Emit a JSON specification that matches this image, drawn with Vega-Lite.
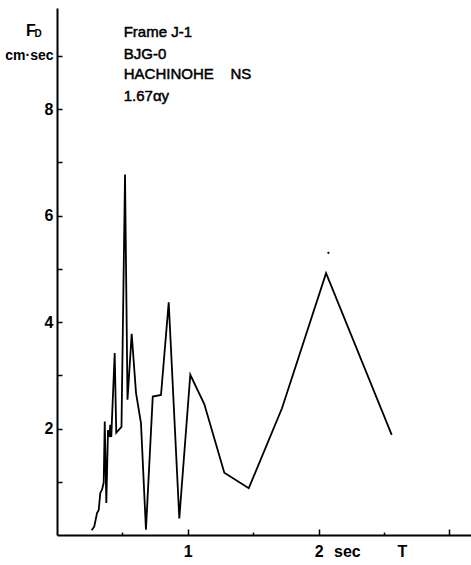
{
  "$schema": "https://vega.github.io/schema/vega-lite/v6.json",
  "autosize": "none",
  "width": 414,
  "height": 527,
  "padding": {"left": 57, "top": 8, "right": 0, "bottom": 30},
  "background": "white",
  "config": {"view": {"stroke": null}, "font": "Liberation Sans"},
  "layer": [
    {
      "data": {"values": [
        {"T": 0.265, "F": 0.09}, {"T": 0.285, "F": 0.16}, {"T": 0.306, "F": 0.41}, {"T": 0.319, "F": 0.47},
        {"T": 0.331, "F": 0.79}, {"T": 0.344, "F": 0.85}, {"T": 0.357, "F": 0.98}, {"T": 0.365, "F": 2.13},
        {"T": 0.377, "F": 0.60}, {"T": 0.39, "F": 1.97}, {"T": 0.40, "F": 1.84}, {"T": 0.407, "F": 2.07},
        {"T": 0.415, "F": 1.84}, {"T": 0.42, "F": 2.16}, {"T": 0.441, "F": 3.42}, {"T": 0.453, "F": 1.92},
        {"T": 0.493, "F": 2.03}, {"T": 0.52, "F": 6.77}, {"T": 0.539, "F": 2.54}, {"T": 0.571, "F": 3.78},
        {"T": 0.604, "F": 2.67}, {"T": 0.642, "F": 2.10}, {"T": 0.68, "F": 0.10}, {"T": 0.732, "F": 2.60},
        {"T": 0.795, "F": 2.63}, {"T": 0.854, "F": 4.37}, {"T": 0.935, "F": 0.31}, {"T": 1.019, "F": 3.01},
        {"T": 1.126, "F": 2.46}, {"T": 1.279, "F": 1.17}, {"T": 1.466, "F": 0.88}, {"T": 1.72, "F": 2.38},
        {"T": 2.057, "F": 4.92}, {"T": 2.559, "F": 1.88}
      ]},
      "mark": {"type": "line", "color": "black", "strokeWidth": 1.8, "strokeJoin": "miter"},
      "encoding": {
        "x": {"field": "T", "type": "quantitative", "scale": {"domain": [0, 3.165], "nice": false, "zero": false},
          "axis": {"title": null, "values": [0.5, 1, 1.5, 2, 2.5, 3], "grid": false,
            "domainColor": "black", "domainWidth": 2, "tickColor": "black", "tickWidth": 1.5,
            "tickSize": {"condition": {"test": "datum.value % 1 != 0", "value": -3}, "value": -6},
            "labelExpr": "datum.value == 1 ? '1' : datum.value == 2 ? '2' : ''",
            "labelFont": "Liberation Sans", "labelFontSize": 16, "labelFontWeight": "bold", "labelColor": "black",
            "labelPadding": 14, "labelFlush": false, "labelOverlap": false}},
        "y": {"field": "F", "type": "quantitative", "scale": {"domain": [0, 9.9], "nice": false},
          "axis": {"title": null, "values": [1, 2, 3, 4, 5, 6, 7, 8, 9], "grid": false,
            "domainColor": "black", "domainWidth": 2, "tickColor": "black", "tickWidth": 1.5, "tickSize": -5,
            "labelExpr": "datum.value == 9 ? 'cm·sec' : (datum.value % 2 == 0 ? datum.label : '')",
            "labelFont": "Liberation Sans",
            "labelFontSize": {"condition": {"test": "datum.value == 9", "value": 14}, "value": 16},
            "labelFontWeight": "bold", "labelColor": "black",
            "labelPadding": 9, "labelOverlap": false, "labelFlush": false}}
      }
    },
    {
      "mark": {"type": "rule", "color": "black", "strokeWidth": 2},
      "encoding": {"y": {"datum": 9.9}}
    },
    {
      "data": {"values": [{"T": 2.075, "F": 5.3}]},
      "mark": {"type": "point", "filled": true, "color": "black", "size": 5, "opacity": 1},
      "encoding": {"x": {"field": "T", "type": "quantitative"}, "y": {"field": "F", "type": "quantitative"}}
    },
    {
      "data": {"values": [
        {"T": 0.51, "F": 9.44, "label": "Frame  J-1"},
        {"T": 0.51, "F": 9.04, "label": "BJG-0"},
        {"T": 0.51, "F": 8.66, "label": "HACHINOHE\u00a0\u00a0\u00a0\u00a0NS"},
        {"T": 0.51, "F": 8.25, "label": "1.67αy"}
      ]},
      "mark": {"type": "text", "align": "left", "baseline": "middle", "font": "Liberation Sans", "fontSize": 15, "color": "black", "stroke": "black", "strokeWidth": 0.5},
      "encoding": {"x": {"field": "T", "type": "quantitative"}, "y": {"field": "F", "type": "quantitative"}, "text": {"field": "label"}}
    },
    {
      "data": {"values": [
        {"T": 2.22, "F": -0.32, "label": "sec"},
        {"T": 2.64, "F": -0.32, "label": "T"},
        {"T": -0.2, "F": 9.47, "label": "F"}
      ]},
      "mark": {"type": "text", "align": "center", "baseline": "middle", "font": "Liberation Sans", "fontSize": 16, "fontWeight": "bold", "color": "black"},
      "encoding": {"x": {"field": "T", "type": "quantitative"}, "y": {"field": "F", "type": "quantitative"}, "text": {"field": "label"}}
    },
    {
      "data": {"values": [{"T": -0.145, "F": 9.42, "label": "D"}]},
      "mark": {"type": "text", "align": "center", "baseline": "middle", "font": "Liberation Sans", "fontSize": 10, "fontWeight": "bold", "color": "black"},
      "encoding": {"x": {"field": "T", "type": "quantitative"}, "y": {"field": "F", "type": "quantitative"}, "text": {"field": "label"}}
    }
  ]
}
